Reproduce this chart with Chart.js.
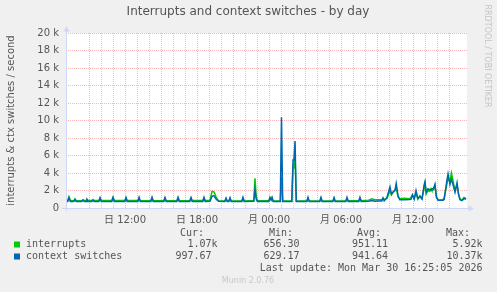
<!DOCTYPE html>
<html>
<head>
<meta charset="utf-8">
<script src="https://cdn.jsdelivr.net/npm/chart.js@4"></script>
<style>
    html, body { margin: 0; padding: 0; background: #f0f0f0; }
</style>
</head>
<body>
<canvas id="myChart" width="497" height="292"></canvas>
<script>
// time of day in hours counted from Sunday 00:00
const hours = [
    7.08, 7.22, 7.33, 7.45, 7.72, 7.83, 7.93, 8.40, 8.50, 8.60, 8.75, 8.83, 8.93, 9.23, 9.33, 9.43,
    9.82, 9.92, 10.02, 10.90, 11.00, 11.10, 11.98, 12.08, 12.18, 13.07, 13.17, 13.27, 14.15, 14.25, 14.35,
    15.23, 15.33, 15.43, 16.32, 16.42, 16.52, 17.40, 17.50, 17.60, 18.48, 18.58, 18.68, 19.08, 19.25,
    19.42, 19.60, 19.80, 20.32, 20.42, 20.52, 20.65, 20.75, 20.85, 21.73, 21.83, 21.93, 22.73, 22.83,
    22.93, 23.03, 23.98, 24.08, 24.17, 24.25, 24.35, 24.94, 25.04, 25.14, 25.90, 26.00, 26.08, 26.17,
    26.27, 27.15, 27.25, 27.35, 28.23, 28.33, 28.43, 29.32, 29.42, 29.52, 30.40, 30.50, 30.60, 31.48,
    31.58, 31.68, 32.30, 32.58, 32.80, 33.10, 33.40, 33.50, 33.60, 33.83, 34.08, 34.20, 34.33, 34.50,
    34.60, 34.75, 34.90, 35.30, 35.70, 35.83, 35.95, 36.10, 36.25, 36.40, 36.58, 36.75, 36.92, 37.00,
    37.10, 37.25, 37.40, 37.50, 37.58, 37.70, 37.83, 37.95, 38.10, 38.50, 38.60, 38.83, 38.92, 39.08,
    39.20, 39.35, 39.50, 39.67, 39.80, 39.92, 40.08, 40.25, 40.42
];

const interrupts = [
    820, 830, 1300, 830, 840, 1050, 840, 850, 950, 850, 860, 1000, 860, 860, 950, 860,
    850, 1150, 860, 880, 1200, 880, 860, 1150, 850, 850, 1150, 850, 820, 1150, 830,
    830, 1150, 830, 840, 1150, 840, 850, 1150, 850, 860, 1150, 860, 900, 1900,
    1850, 1200, 820, 800, 1100, 800, 800, 1100, 800, 800, 1150, 800, 850, 3400,
    1300, 820, 820, 1200, 950, 1150, 800, 800, 3500, 800, 800, 4600, 5000, 5920,
    800, 800, 1100, 800, 800, 1100, 800, 800, 1100, 800, 820, 1100, 820, 820,
    1150, 830, 900, 1050, 950, 950, 950, 1100, 950, 1100, 2000, 1500, 1800, 2100,
    2300, 1300, 1050, 1100, 1050, 1200, 1500, 1100, 1700, 1000, 1400, 1100, 2200, 2800,
    1600, 2000, 1900, 2200, 2000, 2100, 2600, 1300, 900, 950, 1200, 2800, 3400, 3000,
    4000, 3000, 2000, 2600, 1600, 1000, 900, 1200, 1070
];

const ctxSwitches = [
    740, 750, 1150, 740, 750, 950, 740, 740, 900, 740, 750, 950, 740, 740, 880, 740,
    740, 1150, 740, 750, 1200, 740, 740, 1180, 740, 740, 1200, 740, 740, 1200, 740,
    740, 1180, 740, 740, 1200, 740, 740, 1180, 740, 740, 1200, 740, 780, 1350,
    1400, 1000, 760, 740, 1100, 740, 740, 1150, 740, 740, 1200, 740, 760, 2100,
    1050, 740, 750, 1150, 900, 1200, 740, 740, 10370, 740, 740, 5500, 5600, 7650,
    740, 740, 1200, 740, 740, 1200, 740, 740, 1180, 740, 740, 1200, 740, 740,
    1200, 750, 760, 850, 780, 800, 800, 1150, 820, 1200, 2400, 1600, 1800, 2000,
    2800, 1400, 950, 950, 980, 1000, 1500, 1000, 2000, 1100, 1300, 1000, 2600, 3000,
    1800, 2200, 2100, 2100, 2200, 2200, 2700, 1200, 900, 900, 1000, 3200, 3900, 2700,
    3300, 2600, 1800, 2900, 1500, 950, 850, 1100, 998
];

const tickHours = [12, 18, 24, 30, 36];
const tickLabels = ['日 12:00', '日 18:00', '月 00:00', '月 06:00', '月 12:00'];

const seriesNames = ['interrupts', 'context switches'];
const seriesColors = ['#00cc00', '#0066b3'];
const curVals = ['1.07k', '997.67'];
const minVals = ['656.30', '629.17'];
const avgVals = ['951.11', '941.64'];
const maxVals = ['5.92k', '10.37k'];

const gridRed = 'rgba(240, 120, 120, 0.55)';
const gridGray = 'rgba(175, 175, 175, 0.6)';
const axisColor = '#cfd6f8';
const textColor = '#555';

const munin = {
    id: 'munin',
    beforeDraw(chart) {
        const c = chart.ctx;
        const a = chart.chartArea;
        c.save();
        c.fillStyle = '#f0f0f0';
        c.fillRect(0, 0, chart.width, chart.height);
        c.fillStyle = '#ffffff';
        c.fillRect(a.left, a.top, a.right - a.left, a.bottom - a.top);
        c.restore();
    },
    afterDraw(chart) {
        const c = chart.ctx;
        const a = chart.chartArea;
        c.save();

        // axes with arrows
        c.strokeStyle = axisColor;
        c.fillStyle = axisColor;
        c.lineWidth = 1;
        c.beginPath();
        c.moveTo(a.left + 0.5, a.bottom + 3);
        c.lineTo(a.left + 0.5, a.top - 4);
        c.moveTo(a.left - 4, a.bottom + 0.5);
        c.lineTo(a.right + 3, a.bottom + 0.5);
        c.stroke();
        c.beginPath();
        c.moveTo(a.left - 2.5, a.top - 1.5);
        c.lineTo(a.left + 3.5, a.top - 1.5);
        c.lineTo(a.left + 0.5, a.top - 7);
        c.closePath();
        c.fill();
        c.beginPath();
        c.moveTo(a.right + 1.5, a.bottom - 2.5);
        c.lineTo(a.right + 1.5, a.bottom + 3.5);
        c.lineTo(a.right + 7, a.bottom + 0.5);
        c.closePath();
        c.fill();

        // title
        c.fillStyle = textColor;
        c.textBaseline = 'middle';
        c.textAlign = 'center';
        c.font = '12px "DejaVu Sans"';
        c.fillText('Interrupts and context switches - by day', 248, 12);

        // y axis title
        c.save();
        c.translate(11, (a.top + a.bottom) / 2);
        c.rotate(-Math.PI / 2);
        c.font = '10px "DejaVu Sans"';
        c.fillText('interrupts & ctx switches / second', 0, 0);
        c.restore();

        // rrdtool credit
        c.save();
        c.translate(487.5, 56);
        c.rotate(Math.PI / 2);
        c.fillStyle = '#c4c4c4';
        c.font = '8px "DejaVu Sans"';
        c.fillText('RRDTOOL / TOBI OETIKER', 0, 0);
        c.restore();

        // legend table
        c.font = '10px "DejaVu Sans Mono"';
        c.textAlign = 'right';
        c.fillText('Cur:', 204, 233);
        c.fillText('Min:', 293, 233);
        c.fillText('Avg:', 381, 233);
        c.fillText('Max:', 470, 233);
        const rowY = [244.5, 256.5];
        for (let i = 0; i < seriesNames.length; i++) {
            c.fillStyle = seriesColors[i];
            c.fillRect(14, rowY[i] - 3, 6, 6);
            c.fillStyle = textColor;
            c.textAlign = 'left';
            c.fillText(seriesNames[i], 26, rowY[i]);
            c.textAlign = 'right';
            const sfx = (s) => /[0-9]$/.test(s) ? 6 : 0;
            c.fillText(curVals[i], 217.5 - sfx(curVals[i]), rowY[i]);
            c.fillText(minVals[i], 305.5 - sfx(minVals[i]), rowY[i]);
            c.fillText(avgVals[i], 394 - sfx(avgVals[i]), rowY[i]);
            c.fillText(maxVals[i], 482.5 - sfx(maxVals[i]), rowY[i]);
        }
        c.fillText('Last update: Mon Mar 30 16:25:05 2026', 482.5, 268.5);

        c.textAlign = 'center';
        c.fillStyle = '#c8c8c8';
        c.font = '8px "DejaVu Sans"';
        c.fillText('Munin 2.0.76', 248, 281);
        c.restore();
    }
};

const ctx = document.getElementById('myChart').getContext('2d');

new Chart(ctx, {
    type: 'line',
    data: {
        datasets: [
            {
                label: seriesNames[0],
                data: hours.map((h, i) => ({ x: h, y: interrupts[i] })),
                borderColor: seriesColors[0],
                borderWidth: 1.5,
                pointRadius: 0,
                order: 1
            },
            {
                label: seriesNames[1],
                data: hours.map((h, i) => ({ x: h, y: ctxSwitches[i] })),
                borderColor: seriesColors[1],
                borderWidth: 1.5,
                pointRadius: 0,
                order: 0
            }
        ]
    },
    options: {
        responsive: false,
        animation: false,
        devicePixelRatio: 1,
        layout: {
            padding: { left: 0, top: 33, right: 30, bottom: 64 }
        },
        plugins: {
            legend: { display: false },
            tooltip: { enabled: false }
        },
        scales: {
            x: {
                type: 'linear',
                min: 7.08,
                max: 40.5,
                afterBuildTicks: (axis) => {
                    axis.ticks = axis.ticks.filter(t => Number.isInteger(t.value));
                },
                afterFit: (scale) => { scale.height = 20; },
                ticks: {
                    stepSize: 1,
                    autoSkip: false,
                    maxRotation: 0,
                    padding: 6,
                    color: textColor,
                    font: { family: '"DejaVu Sans", "Noto Sans CJK JP", sans-serif', size: 10 },
                    callback: (v) => {
                        const k = tickHours.indexOf(v);
                        return k >= 0 ? tickLabels[k] : '';
                    }
                },
                grid: {
                    drawTicks: false,
                    lineWidth: 1,
                    color: (c) => c.tick && c.tick.value % 3 === 0 ? gridRed : gridGray
                },
                border: { display: false, dash: [1, 1] }
            },
            y: {
                min: 0,
                max: 20000,
                afterFit: (scale) => { scale.width = 66; },
                ticks: {
                    stepSize: 1000,
                    padding: 7,
                    color: textColor,
                    font: { family: '"DejaVu Sans"', size: 10 },
                    callback: (v) => v % 2000 ? '' : (v === 0 ? '0' : (v / 1000) + ' k')
                },
                grid: {
                    drawTicks: false,
                    lineWidth: 1,
                    color: (c) => c.tick && c.tick.value % 2000 === 0 ? gridRed : gridGray
                },
                border: { display: false, dash: [1, 1] }
            }
        }
    },
    plugins: [munin]
});
</script>
</body>
</html>
